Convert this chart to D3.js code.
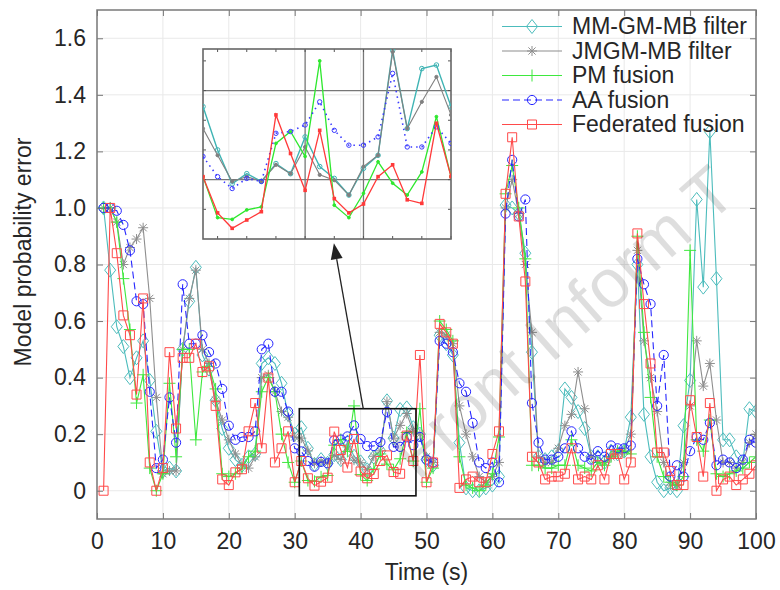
<!DOCTYPE html>
<html>
<head>
<meta charset="utf-8">
<script src="https://cdn.jsdelivr.net/npm/d3@7"></script>
<style>
body { margin: 0; background: #fff; }
text { font-family: "Liberation Sans", Arial, sans-serif; }
</style>
</head>
<body>
<div class="chart"></div>
<script>
// Data (time step 1..100 s)
const time = d3.range(1, 101)

const mmgmFilter = [1.0, 0.78, 0.58, 0.51, 0.40, 0.47, 0.53, 0.39, 0.21, 0.07,
  0.08, 0.07, 0.50, 0.67, 0.79, 0.48, 0.43, 0.32, 0.22, 0.15,
  0.11, 0.09, 0.12, 0.13, 0.45, 0.47, 0.45, 0.38, 0.27, 0.20,
  0.223, 0.15, 0.093, 0.11, 0.097, 0.127, 0.11, 0.172, 0.122, 0.102,
  0.074, 0.119, 0.141, 0.318, 0.186, 0.287, 0.293, 0.223, 0.20, 0.11,
  0.09, 0.55, 0.52, 0.48, 0.17, 0.01, 0.0, 0.0, 0.01, 0.02,
  0.05, 1.01, 1.0, 0.98, 0.84, 0.49, 0.12, 0.11, 0.12, 0.14,
  0.36, 0.33, 0.28, 0.22, 0.12, 0.12, 0.10, 0.14, 0.13, 0.14,
  0.26, 0.80, 0.27, 0.12, 0.03, 0.0, 0.01, 0.0, 0.23, 0.39,
  1.03, 0.72, 1.27, 0.75, 0.18, 0.18, 0.12, 0.10, 0.29, 0.28]

const jmgmFilter = [1.0, 1.0, 0.95, 0.80, 0.86, 0.89, 0.93, 0.68, 0.33, 0.06,
  0.07, 0.07, 0.50, 0.68, 0.78, 0.50, 0.45, 0.32, 0.25, 0.18,
  0.13, 0.09, 0.08, 0.12, 0.40, 0.41, 0.35, 0.28, 0.26, 0.19,
  0.186, 0.141, 0.097, 0.105, 0.097, 0.125, 0.11, 0.155, 0.108, 0.099,
  0.074, 0.122, 0.141, 0.315, 0.186, 0.231, 0.273, 0.209, 0.20, 0.12,
  0.10, 0.56, 0.55, 0.52, 0.30, 0.20, 0.12, 0.05, 0.03, 0.05,
  0.10, 1.0, 1.1, 0.98, 0.80, 0.56, 0.12, 0.10, 0.10, 0.15,
  0.23, 0.27, 0.42, 0.29, 0.12, 0.10, 0.10, 0.12, 0.13, 0.14,
  0.20, 0.85, 0.53, 0.40, 0.28, 0.10, 0.02, 0.02, 0.10, 0.30,
  0.53, 0.37, 0.45, 0.25, 0.10, 0.10, 0.08, 0.10, 0.17, 0.20]

const pmFusion = [1.0, 1.0, 0.95, 0.75, 0.57, 0.31, 0.41, 0.08, 0.0, 0.06,
  0.38, 0.12, 0.50, 0.50, 0.18, 0.42, 0.44, 0.36, 0.06, 0.05,
  0.06, 0.08, 0.12, 0.14, 0.35, 0.40, 0.35, 0.20, 0.10, 0.03,
  0.105, 0.036, 0.033, 0.049, 0.054, 0.161, 0.181, 0.139, 0.30, 0.057,
  0.036, 0.077, 0.13, 0.094, 0.074, 0.113, 0.206, 0.105, 0.29, 0.03,
  0.08, 0.60, 0.57, 0.53, 0.12, 0.02, 0.01, 0.0, 0.02, 0.06,
  0.19, 1.05, 1.15, 1.0, 0.82, 0.09, 0.09, 0.08, 0.08, 0.09,
  0.09, 0.18, 0.09, 0.08, 0.07, 0.10, 0.09, 0.12, 0.14, 0.14,
  0.13, 0.90, 0.56, 0.33, 0.12, 0.05, 0.03, 0.02, 0.05, 0.85,
  0.18, 0.14, 0.25, 0.06, 0.05, 0.06, 0.07, 0.08, 0.10, 0.12]

const aaFusion = [1.0, 1.0, 0.99, 0.94, 0.85, 0.67, 0.66, 0.35, 0.08, 0.11,
  0.33, 0.17, 0.73, 0.52, 0.52, 0.55, 0.49, 0.45, 0.36, 0.23,
  0.18, 0.19, 0.19, 0.21, 0.50, 0.52, 0.35, 0.35, 0.28, 0.15,
  0.139, 0.105, 0.085, 0.102, 0.097, 0.178, 0.181, 0.192, 0.231, 0.183,
  0.158, 0.158, 0.172, 0.279, 0.155, 0.155, 0.189, 0.161, 0.19, 0.11,
  0.10, 0.53, 0.52, 0.49, 0.38, 0.35, 0.24, 0.10, 0.08, 0.10,
  0.03, 0.98, 1.17, 0.97, 1.03, 0.31, 0.17, 0.11, 0.11, 0.12,
  0.15, 0.21, 0.15, 0.12, 0.11, 0.14, 0.12, 0.16, 0.15, 0.15,
  0.16, 0.82, 0.73, 0.66, 0.30, 0.48, 0.05, 0.09, 0.05, 0.14,
  0.19, 0.18, 0.24, 0.09, 0.11, 0.10, 0.08, 0.11, 0.18, 0.17]

const federatedFusion = [0.0, 1.0, 0.84, 0.62, 0.55, 0.34, 0.68, 0.10, 0.0, 0.08,
  0.49, 0.22, 0.47, 0.47, 0.52, 0.42, 0.44, 0.30, 0.04, 0.02,
  0.065, 0.076, 0.21, 0.31, 0.15, 0.40, 0.10, 0.15, 0.21, 0.03,
  0.105, 0.044, 0.018, 0.032, 0.046, 0.209, 0.144, 0.082, 0.183, 0.068,
  0.044, 0.059, 0.105, 0.125, 0.066, 0.06, 0.195, 0.105, 0.48, 0.03,
  0.10, 0.59, 0.56, 0.52, 0.01, 0.04, 0.05, 0.03, 0.03, 0.13,
  0.21, 1.05, 1.25, 0.97, 0.74, 0.12, 0.10, 0.04, 0.05, 0.05,
  0.06, 0.15, 0.04, 0.05, 0.04, 0.09, 0.04, 0.13, 0.13, 0.04,
  0.10, 0.91, 0.66, 0.45, 0.135, 0.135, 0.07, 0.02, 0.02, 0.32,
  0.19, 0.05, 0.31, 0.0, 0.04, 0.05, 0.02, 0.04, 0.06, 0.09]

const seriesNames = ["MM-GM-MB filter", "JMGM-MB filter", "PM fusion", "AA fusion", "Federated fusion"]
const xTicks = [0, 10, 20, 30, 40, 50, 60, 70, 80, 90, 100]
const yTicks = [0, 0.2, 0.4, 0.6, 0.8, 1.0, 1.2, 1.4, 1.6]
const insetXTicks = [32, 34, 36, 38, 40, 42, 44, 46, 48]
const insetYTicks = [0.05, 0.1, 0.15, 0.2, 0.25, 0.3]
const insetXGrid = [38, 42]
const insetYGrid = [0.1, 0.25]

// Size of plot
const w = 780
const h = 590
const margin = {"top": 10, "right": 24, "bottom": 71, "left": 97}

const svg = d3.select(".chart")
  .append("svg")
  .attr("width", w)
  .attr("height", h)

const xScale = d3.scaleLinear().domain([0, 100]).range([margin.left, w - margin.right])
const yScale = d3.scaleLinear().domain([-0.1, 1.7]).range([h - margin.bottom, margin.top])

// styles per series
const styles = [
  {color: "#4cbcbc", marker: "diamond", dash: null},
  {color: "#8e8e8e", marker: "star", dash: null},
  {color: "#3ee83e", marker: "plus", dash: null},
  {color: "#2626ff", marker: "circle", dash: "7,4"},
  {color: "#ff4a4a", marker: "square", dash: null}
]
const allValues = [mmgmFilter, jmgmFilter, pmFusion, aaFusion, federatedFusion]
const series = seriesNames.map((name, i) => ({
  name: name,
  style: styles[i],
  points: time.map((t, j) => [t, allValues[i][j]])
}))

const markerPath = {
  diamond: "M0,-7L5.5,0L0,7L-5.5,0Z",
  star: "M-5,0H5M0,-5V5M-3.6,-3.6L3.6,3.6M-3.6,3.6L3.6,-3.6",
  plus: "M-6,0H6M0,-6V6",
  circle: "M4.6,0A4.6,4.6 0 1 1 -4.6,0A4.6,4.6 0 1 1 4.6,0Z",
  square: "M-4.5,-4.5H4.5V4.5H-4.5Z"
}

// grid
const grid = svg.append("g")
grid.selectAll(".gx").data(xTicks).join("line")
  .attr("x1", d => xScale(d)).attr("x2", d => xScale(d))
  .attr("y1", yScale.range()[0]).attr("y2", yScale.range()[1])
  .attr("stroke", "#e9e9e9")
grid.selectAll(".gy").data(yTicks).join("line")
  .attr("x1", xScale.range()[0]).attr("x2", xScale.range()[1])
  .attr("y1", d => yScale(d)).attr("y2", d => yScale(d))
  .attr("stroke", "#e9e9e9")

svg.append("clipPath").attr("id", "plotclip")
  .append("rect")
  .attr("x", margin.left).attr("y", margin.top)
  .attr("width", w - margin.left - margin.right)
  .attr("height", h - margin.top - margin.bottom)

const plot = svg.append("g").attr("clip-path", "url(#plotclip)")
const line = d3.line().x(d => xScale(d[0])).y(d => yScale(d[1]))

series.forEach(s => {
  const g = plot.append("g")
  g.append("path")
    .attr("d", line(s.points))
    .attr("fill", "none")
    .attr("stroke", s.style.color)
    .attr("stroke-width", 1.1)
    .attr("stroke-dasharray", s.style.dash)
  g.selectAll("path.m").data(s.points).join("path")
    .attr("class", "m")
    .attr("d", markerPath[s.style.marker])
    .attr("transform", d => `translate(${xScale(d[0])},${yScale(d[1])})`)
    .attr("fill", "none")
    .attr("stroke", s.style.color)
    .attr("stroke-width", 1)
})

// axes
const fmtY = d => d === 0 ? "0" : d3.format(".1f")(d)
const bottomAxis = svg.append("g")
  .attr("transform", `translate(0, ${h - margin.bottom})`)
  .call(d3.axisBottom(xScale).tickValues(xTicks).tickSizeInner(-6).tickSizeOuter(0).tickPadding(14))
const leftAxis = svg.append("g")
  .attr("transform", `translate(${margin.left}, 0)`)
  .call(d3.axisLeft(yScale).tickValues(yTicks).tickFormat(fmtY).tickSizeInner(-6).tickSizeOuter(0).tickPadding(11))
const topAxis = svg.append("g")
  .attr("transform", `translate(0, ${margin.top})`)
  .call(d3.axisTop(xScale).tickValues(xTicks).tickFormat("").tickSizeInner(-6).tickSizeOuter(0))
const rightAxis = svg.append("g")
  .attr("transform", `translate(${w - margin.right}, 0)`)
  .call(d3.axisRight(yScale).tickValues(yTicks).tickFormat("").tickSizeInner(-6).tickSizeOuter(0))

;[bottomAxis, leftAxis, topAxis, rightAxis].forEach(a => {
  a.select(".domain").remove()
  a.selectAll(".tick line").attr("stroke", "#777")
  a.selectAll("text").attr("font-size", 23).attr("fill", "#262626")
    .style("font-family", "'Liberation Sans', Arial, sans-serif")
})

svg.append("rect")
  .attr("x", margin.left).attr("y", margin.top)
  .attr("width", w - margin.left - margin.right)
  .attr("height", h - margin.top - margin.bottom)
  .attr("fill", "none").attr("stroke", "#7a7a7a").attr("stroke-width", 1.5)

svg.append("text")
  .attr("x", (xScale.range()[0] + xScale.range()[1]) / 2)
  .attr("y", 580)
  .attr("text-anchor", "middle")
  .attr("font-size", 23).attr("fill", "#262626")
  .text("Time (s)")

svg.append("text")
  .attr("transform", "translate(31, 252) rotate(-90)")
  .attr("text-anchor", "middle")
  .attr("font-size", 23).attr("fill", "#262626")
  .text("Model probability error")

// zoom rectangle and arrow
const zoomBox = {x0: 30.7, x1: 48.4, y0: -0.018, y1: 0.29}
svg.append("rect")
  .attr("x", xScale(zoomBox.x0)).attr("y", yScale(zoomBox.y1))
  .attr("width", xScale(zoomBox.x1) - xScale(zoomBox.x0))
  .attr("height", yScale(zoomBox.y0) - yScale(zoomBox.y1))
  .attr("fill", "none").attr("stroke", "#111").attr("stroke-width", 1.6)

const arrowFrom = [40.4, 0.29], arrowTo = [35.95, 0.875]
const ax0 = xScale(arrowFrom[0]), ay0 = yScale(arrowFrom[1])
const ax1 = xScale(arrowTo[0]), ay1 = yScale(arrowTo[1])
const ang = Math.atan2(ay1 - ay0, ax1 - ax0)
const headLen = 16, headW = 6
const bx = ax1 - headLen * Math.cos(ang), by = ay1 - headLen * Math.sin(ang)
svg.append("line")
  .attr("x1", ax0).attr("y1", ay0).attr("x2", bx).attr("y2", by)
  .attr("stroke", "#222").attr("stroke-width", 1.3)
svg.append("path")
  .attr("d", `M${ax1},${ay1}L${bx + headW * Math.sin(ang)},${by - headW * Math.cos(ang)}L${bx - headW * Math.sin(ang)},${by + headW * Math.cos(ang)}Z`)
  .attr("fill", "#222")

// inset
const inset = {left: 203, right: 451, top: 49, bottom: 239}
const xi = d3.scaleLinear().domain([31, 48]).range([inset.left, inset.right])
const yi = d3.scaleLinear().domain([0, 0.32]).range([inset.bottom, inset.top])

const ig = svg.append("g")
ig.selectAll(".igx").data(insetXGrid).join("line")
  .attr("x1", d => xi(d)).attr("x2", d => xi(d))
  .attr("y1", inset.top).attr("y2", inset.bottom)
  .attr("stroke", "#777").attr("stroke-width", 1.3)
ig.selectAll(".igy").data(insetYGrid).join("line")
  .attr("x1", inset.left).attr("x2", inset.right)
  .attr("y1", d => yi(d)).attr("y2", d => yi(d))
  .attr("stroke", "#777").attr("stroke-width", 1.3)
ig.selectAll(".itx").data(insetXTicks).join("path")
  .attr("d", d => `M${xi(d)},${inset.top}v3M${xi(d)},${inset.bottom}v-3`)
  .attr("stroke", "#555")
ig.selectAll(".ity").data(insetYTicks).join("path")
  .attr("d", d => `M${inset.left},${yi(d)}h3M${inset.right},${yi(d)}h-3`)
  .attr("stroke", "#555")

svg.append("clipPath").attr("id", "insetclip")
  .append("rect")
  .attr("x", inset.left).attr("y", inset.top)
  .attr("width", inset.right - inset.left).attr("height", inset.bottom - inset.top)

const insetPlot = svg.append("g").attr("clip-path", "url(#insetclip)")
const iline = d3.line().x(d => xi(d[0])).y(d => yi(d[1]))
const insetStyle = [
  {color: "#3fb4b4", r: 2.3, fill: "none", dash: null, width: 1.4},
  {color: "#808080", r: 1.6, fill: "#808080", dash: null, width: 1.1},
  {color: "#2ee82e", r: 1.4, fill: "#2ee82e", dash: null, width: 1.3},
  {color: "#3a3aff", r: 2.2, fill: "none", dash: "1.5,4", width: 1.6},
  {color: "#ff3a3a", r: 1.8, fill: "#ff3a3a", dash: null, width: 1.3}
]
series.forEach((s, i) => {
  const pts = s.points.filter(d => d[0] >= 31 && d[0] <= 48)
  const st = insetStyle[i]
  insetPlot.append("path")
    .attr("d", iline(pts))
    .attr("fill", "none").attr("stroke", st.color)
    .attr("stroke-width", st.width).attr("stroke-dasharray", st.dash)
  if (i === 4) {
    insetPlot.selectAll(null).data(pts).join("rect")
      .attr("x", d => xi(d[0]) - st.r).attr("y", d => yi(d[1]) - st.r)
      .attr("width", st.r * 2).attr("height", st.r * 2)
      .attr("fill", st.fill)
  } else {
    insetPlot.selectAll(null).data(pts).join("circle")
      .attr("cx", d => xi(d[0])).attr("cy", d => yi(d[1])).attr("r", st.r)
      .attr("fill", st.fill).attr("stroke", st.color).attr("stroke-width", 1)
  }
})

ig.append("rect")
  .attr("x", inset.left).attr("y", inset.top)
  .attr("width", inset.right - inset.left).attr("height", inset.bottom - inset.top)
  .attr("fill", "none").attr("stroke", "#666").attr("stroke-width", 1.6)

// legend
const legend = svg.append("g")
series.forEach((s, i) => {
  const cy = 26.5 + i * 24.5
  const row = legend.append("g")
  row.append("line")
    .attr("x1", 502).attr("x2", 562).attr("y1", cy).attr("y2", cy)
    .attr("stroke", s.style.color).attr("stroke-width", 1.1)
    .attr("stroke-dasharray", s.style.dash)
  row.append("path")
    .attr("d", markerPath[s.style.marker])
    .attr("transform", `translate(532,${cy})`)
    .attr("fill", "none").attr("stroke", s.style.color)
  row.append("text")
    .attr("x", 572).attr("y", cy + 7.5)
    .attr("font-size", 23).attr("fill", "#262626")
    .text(s.name)
})

// watermark
svg.append("text")
  .attr("transform", "translate(418, 482) rotate(-41.5)")
  .attr("font-size", 68)
  .attr("fill", "#000").attr("fill-opacity", 0.13)
  .text("Front Inform T")
</script>
</body>
</html>
